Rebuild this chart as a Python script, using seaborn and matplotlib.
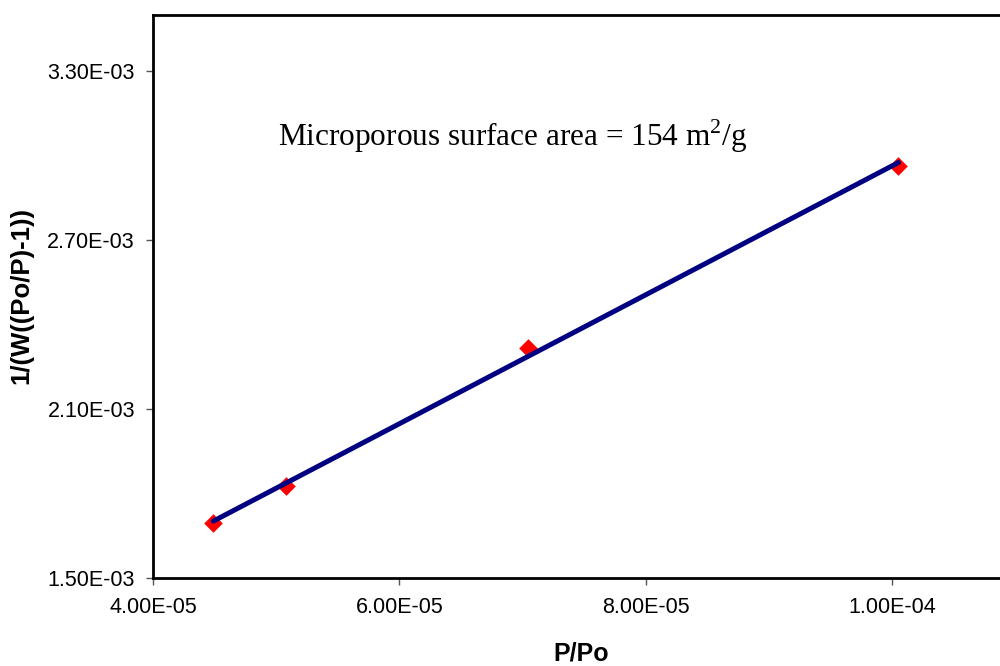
import numpy as np
import pandas as pd
import seaborn as sns
import matplotlib.pyplot as plt

# values
p_po = [4.49e-05, 5.08e-05, 7.04e-05, 1.005e-04]
inv_w = [1.695e-03, 1.827e-03, 2.317e-03, 2.963e-03]
x_ticks = [4.0e-05, 6.0e-05, 8.0e-05, 1.0e-04]
y_ticks = [1.5e-03, 2.1e-03, 2.7e-03, 3.3e-03]
note = 'Microporous surface area = 154 m$^2$/g'

df = pd.DataFrame({'P/Po': p_po, 'y': inv_w})

# linear trend line through the points
slope, icpt = np.polyfit(df['P/Po'], df['y'], 1)
fit = pd.DataFrame({'P/Po': [min(p_po), max(p_po)]})
fit['y'] = slope * fit['P/Po'] + icpt

sns.set_style('white')
plt.rcParams['font.family'] = ['Liberation Sans', 'DejaVu Sans']
plt.rcParams['text.color'] = 'black'
plt.rcParams['axes.labelcolor'] = 'black'
plt.rcParams['mathtext.fontset'] = 'custom'
plt.rcParams['mathtext.rm'] = 'Liberation Serif'

fig = plt.figure(figsize=(10, 6.66), dpi=100)
ax = fig.add_axes([0.153, 0.1321, 0.847, 0.8454])

sns.scatterplot(data=df, x='P/Po', y='y', marker='D', s=90, color='#ff0000',
                edgecolor='#ff0000', linewidth=0, ax=ax, zorder=2)
sns.lineplot(data=fit, x='P/Po', y='y', color='#000080', linewidth=3.6, ax=ax, zorder=3)

ax.set_xlim(4.0e-05, 1.0874e-04)
ax.set_ylim(1.5e-03, 3.5e-03)
ax.set_xticks(x_ticks)
ax.set_yticks(y_ticks)
ax.set_xticklabels(['%.2E' % v for v in x_ticks], fontsize=15.5)
ax.set_yticklabels(['%.2E' % v for v in y_ticks], fontsize=15.5)
ax.tick_params(axis='both', direction='out', length=5, width=1, color='#555555',
               labelcolor='black', bottom=True, left=True)
ax.tick_params(axis='x', pad=9)
ax.tick_params(axis='y', pad=8)

for side in ['left', 'bottom', 'top']:
    ax.spines[side].set_color('black')
    ax.spines[side].set_linewidth(2)
ax.spines['right'].set_visible(False)

ax.set_xlabel('P/Po', fontsize=18, fontweight='bold')
ax.set_ylabel('1/(W((Po/P)-1))', fontsize=18.5, fontweight='bold')
ax.xaxis.set_label_coords(0.506, -0.113)
ax.yaxis.set_label_coords(-0.141, 0.502)

ax.text(0.148, 0.785, note, transform=ax.transAxes, fontsize=22.5,
        family=['Liberation Serif', 'DejaVu Serif'], va='center', ha='left')

fig.savefig('out.png', dpi=100)
